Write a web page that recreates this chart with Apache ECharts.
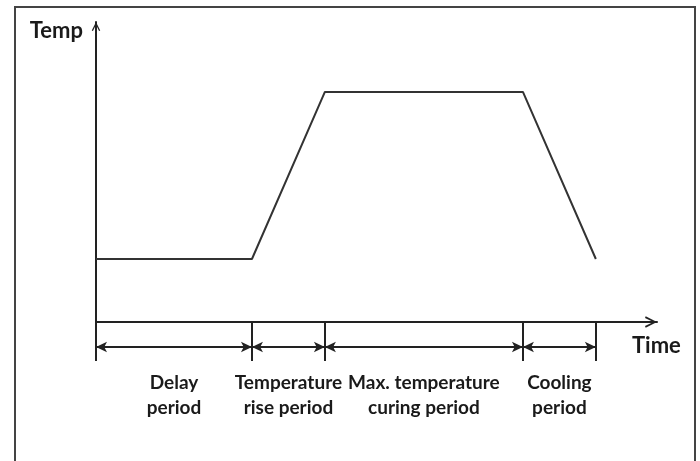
<!DOCTYPE html>
<html>
<head>
<meta charset="utf-8">
<script src="https://cdn.jsdelivr.net/npm/echarts@6/dist/echarts.min.js"></script>
<style>
    html, body { margin: 0; padding: 0; background: #fff; }
    #chart { width: 700px; height: 461px; }
</style>
</head>
<body>
<div id="chart"></div>
<script>
// time points where the curing phases change (arbitrary time units, 0..100)
var timeBreaks = [0, 27.8, 40.8, 76.1, 89.1];
// temperature at those points (arbitrary units, 0..100)
var temps = [21, 21, 76.7, 76.7, 21];
var phaseNames = [
    'Delay\nperiod',
    'Temperature\nrise period',
    'Max. temperature\ncuring period',
    'Cooling\nperiod'
];

var ink = '#222';
var font = 'Lato, "Open Sans", sans-serif';
var chevron = 'path://M0,10 L5,0 L10,10 L8.6,10.6 L5,3.2 L1.4,10.6 Z';

var curve = [];
for (var i = 0; i < timeBreaks.length; i++) {
    curve.push([timeBreaks[i], temps[i]]);
}

// midpoints of each phase, for the labels under the dimension line
var mids = [];
for (var i = 0; i < phaseNames.length; i++) {
    mids.push((timeBreaks[i] + timeBreaks[i + 1]) / 2);
}

var dimLines = [];
for (var i = 0; i < phaseNames.length; i++) {
    dimLines.push([{ coord: [timeBreaks[i], 0.36] }, { coord: [timeBreaks[i + 1], 0.36] }]);
}
var tickLines = timeBreaks.map(function (t) { return { xAxis: t }; });

var chart = echarts.init(document.getElementById('chart'));

chart.setOption({
    animation: false,
    textStyle: { fontFamily: font },
    graphic: [{
        type: 'rect',
        shape: { x: 15, y: 7, width: 680, height: 480 },
        style: { fill: 'none', stroke: '#444', lineWidth: 2 },
        silent: true
    }],
    grid: [
        { left: 96, right: 43, top: 22, bottom: 139 },
        { left: 96, right: 43, top: 322, height: 39 }
    ],
    xAxis: [{
        gridIndex: 0,
        type: 'value',
        min: 0,
        max: 100,
        name: 'Time',
        nameLocation: 'end',
        nameGap: -25,
        nameTextStyle: {
            color: '#1a1a1a',
            fontFamily: font,
            fontWeight: 'bold',
            fontSize: 22,
            align: 'left',
            verticalAlign: 'top',
            padding: [13, 0, 0, 0]
        },
        axisLine: {
            show: true,
            symbol: ['none', chevron],
            symbolSize: [12, 12],
            symbolOffset: [0, -6],
            lineStyle: { color: ink, width: 2 }
        },
        axisTick: { show: false },
        axisLabel: { show: false },
        splitLine: { show: false }
    }, {
        gridIndex: 1,
        type: 'value',
        min: 0,
        max: 100,
        axisLine: { show: false },
        axisTick: { show: false },
        splitLine: { show: false },
        axisLabel: {
            show: true,
            customValues: mids,
            margin: 9,
            color: '#1a1a1a',
            fontFamily: font,
            fontWeight: 'bold',
            fontSize: 19,
            lineHeight: 25,
            align: 'center',
            formatter: function (v) {
                var best = 0;
                for (var k = 1; k < mids.length; k++) {
                    if (Math.abs(mids[k] - v) < Math.abs(mids[best] - v)) best = k;
                }
                return phaseNames[best];
            }
        }
    }],
    yAxis: [{
        gridIndex: 0,
        type: 'value',
        min: 0,
        max: 100,
        name: 'Temp',
        nameLocation: 'end',
        nameGap: -9,
        nameTextStyle: {
            color: '#1a1a1a',
            fontFamily: font,
            fontWeight: 'bold',
            fontSize: 22,
            align: 'right',
            verticalAlign: 'middle',
            padding: [0, 13, 0, 0]
        },
        axisLine: {
            show: true,
            symbol: ['none', chevron],
            symbolSize: [10, 9],
            symbolOffset: [0, -4.5],
            lineStyle: { color: ink, width: 2 }
        },
        axisTick: { show: false },
        axisLabel: { show: false },
        splitLine: { show: false }
    }, {
        gridIndex: 1,
        type: 'value',
        min: 0,
        max: 1,
        show: false
    }],
    series: [{
        name: 'Temperature',
        type: 'line',
        xAxisIndex: 0,
        yAxisIndex: 0,
        data: curve,
        symbol: 'none',
        silent: true,
        lineStyle: { color: '#333', width: 2 }
    }, {
        name: 'ticks',
        type: 'line',
        xAxisIndex: 1,
        yAxisIndex: 1,
        data: [],
        markLine: {
            silent: true,
            symbol: 'none',
            label: { show: false },
            lineStyle: { color: ink, width: 2, type: 'solid' },
            data: tickLines
        }
    }, {
        name: 'phases',
        type: 'line',
        xAxisIndex: 1,
        yAxisIndex: 1,
        data: [],
        markLine: {
            silent: true,
            symbol: ['arrow', 'arrow'],
            symbolSize: [8, 11],
            label: { show: false },
            lineStyle: { color: ink, width: 2, type: 'solid' },
            data: dimLines
        }
    }]
});
</script>
</body>
</html>
